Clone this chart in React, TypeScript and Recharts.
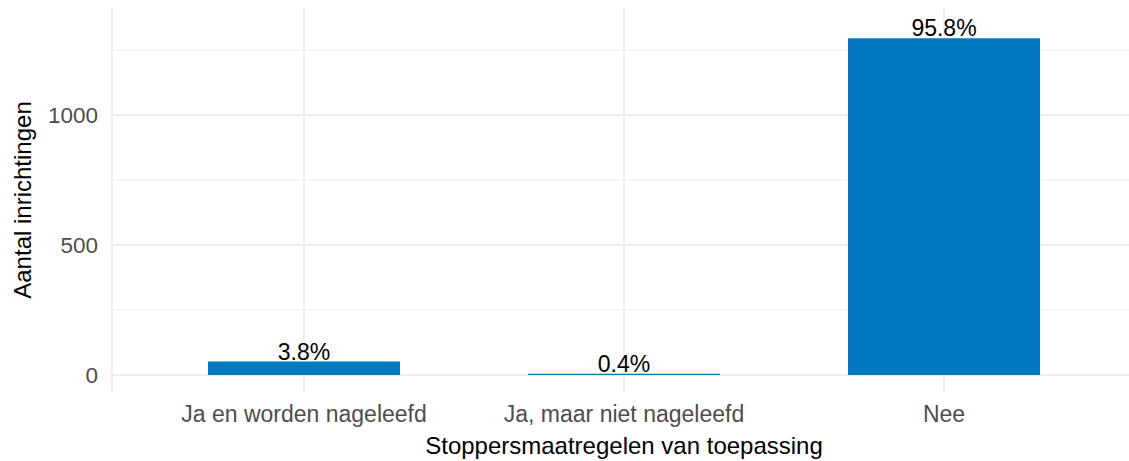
import { BarChart, Bar, XAxis, YAxis, CartesianGrid, LabelList } from 'recharts';

const categories = ['Ja en worden nageleefd', 'Ja, maar niet nageleefd', 'Nee'];
const counts = [52, 5, 1296];
const pctLabels = ['3.8%', '0.4%', '95.8%'];
const yTicks = [0, 500, 1000];
const minorTicks = [250, 750, 1250];

const data = categories.map((cat, i) => ({
  cat,
  count: counts[i],
  pct: pctLabels[i],
}));

const FONT = '"Liberation Sans", Arial, sans-serif';

const YTitle = () => (
  <text
    x={31}
    y={200}
    transform="rotate(-90 31 200)"
    textAnchor="middle"
    fontSize={24}
    fontFamily={FONT}
    fill="#000"
  >
    Aantal inrichtingen
  </text>
);

export default function App() {
  return (
    <div
      style={{
        position: 'absolute',
        left: 0,
        top: 0,
        width: 1129,
        height: 461,
        overflow: 'hidden',
        background: '#fff',
      }}
    >
      <BarChart
        width={1140}
        height={461}
        data={data}
        margin={{ top: 8, right: 4, left: 0, bottom: 0 }}
        style={{ fontFamily: FONT }}
      >
        <CartesianGrid
          horizontalValues={minorTicks}
          vertical={false}
          stroke="#EBEBEB"
          strokeWidth={1}
        />
        <CartesianGrid
          horizontalValues={yTicks}
          stroke="#EBEBEB"
          strokeWidth={1.6}
        />
        <XAxis
          dataKey="cat"
          height={69}
          padding={{ left: 32, right: 32 }}
          axisLine={false}
          tickLine={false}
          tickSize={6}
          tickMargin={8}
          tick={{ fontSize: 23, fill: '#4D4D4D', fontFamily: FONT }}
          interval={0}
          label={{
            value: 'Stoppersmaatregelen van toepassing',
            position: 'insideBottom',
            offset: 7,
            fontSize: 24,
            fill: '#000',
            fontFamily: FONT,
          }}
        />
        <YAxis
          width={112}
          domain={[-65, 1412]}
          allowDataOverflow
          ticks={yTicks}
          axisLine={false}
          tickLine={false}
          tickSize={6}
          tickMargin={8}
          tick={{ fontSize: 22.5, fill: '#4D4D4D', fontFamily: FONT }}
          label={{ content: () => <YTitle /> }}
        />
        <Bar dataKey="count" fill="#0079C2" barSize={192} isAnimationActive={false}>
          <LabelList
            dataKey="pct"
            position="top"
            offset={2}
            fontSize={23}
            fill="#000"
            fontFamily={FONT}
          />
        </Bar>
      </BarChart>
    </div>
  );
}
